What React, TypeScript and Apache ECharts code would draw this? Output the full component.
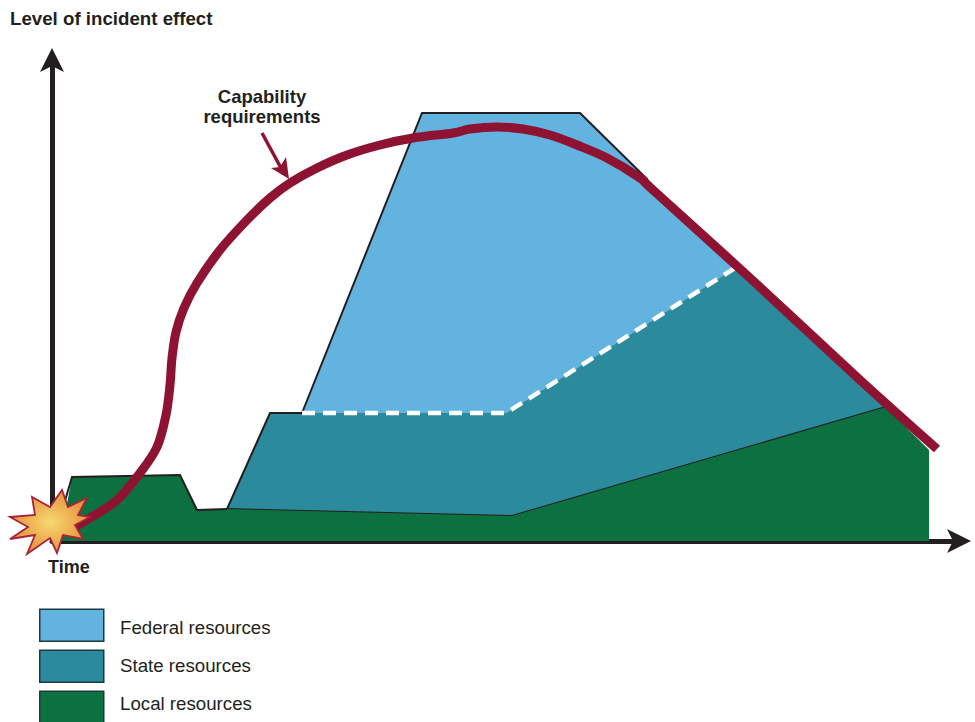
import React, { useEffect, useRef } from "react";
import * as echarts from "echarts";

const federalArea = [[250,128],[370,428],[528,428],[600,358],[683,273],[454,128]];
const federalEdge = [[250,128],[370,428],[528,428],[596,361]];
const stateArea = [[175,32],[218,128],[250,128],[454,128],[683,273],[834,134],[460,25]];
const stateEdgeLeft = [[175,32],[218,128],[250,128]];
const stateEdgeBottom = [[175,32],[460,25],[834,134]];
const localArea = [[8,0],[20,64],[128,66],[145,31],[175,32],[460,25],[834,134],[877,91],[877,0]];
const localEdge = [[10,30],[20,64],[128,66],[145,31],[175,32]];
const federalStateBoundary = [[250,128],[454,128],[683,273]];
const capability = [[24,15],[38,23],[65,41],[88,68],[105,94],[114,126],[118,156],[120,183],[124,209],[132,233],[145,258],[168,291],[195,321],[218,343],[238,358],[265,373],[295,386],[328,396],[361,403],[401,408],[418,412],[445,414],[471,412],[498,406],[525,396],[555,383],[588,363],[601,351],[698,263],[808,161],[885,92]];
const burst = [[10,51],[16,34],[35,43],[26,26],[38,24],[23,16],[31,2],[11,6],[5,-12],[-2,3],[-25,-13],[-17,6],[-42,2],[-24,14],[-42,24],[-17,26],[-20,44],[-2,34]];
const legendNames = ["Federal resources", "State resources", "Local resources"];

const FEDERAL = "#63b3e0";
const STATE = "#2b8b9d";
const LOCAL = "#0c7040";
const CURVE = "#8e1333";
const INK = "#231f20";
const FONT = "'Liberation Sans', Arial, sans-serif";
const ARROW = "path://M0,0 L12,24 L0,18 L-12,24 Z";

function areaSeries(name: string, color: string, area: number[][], edges: number[][][], z: number) {
  return {
    name,
    type: "custom",
    coordinateSystem: "cartesian2d",
    clip: false,
    z,
    silent: true,
    itemStyle: { color },
    data: [area[0]],
    encode: { x: 0, y: 1 },
    renderItem: (_: any, api: any) => ({
      type: "group",
      children: [
        { type: "polygon", shape: { points: area.map((p) => api.coord(p)) }, style: { fill: color } },
        ...edges.map((edge) => ({
          type: "polyline",
          shape: { points: edge.map((p) => api.coord(p)) },
          style: { fill: "none", stroke: INK, lineWidth: 2 },
        })),
      ],
    }),
  };
}

// Catmull-Rom spline through the given pixel points, as SVG path data.
function splinePath(pts: number[][]) {
  let d = `M${pts[0][0]} ${pts[0][1]}`;
  for (let i = 0; i < pts.length - 1; i++) {
    const p0 = pts[Math.max(i - 1, 0)];
    const p1 = pts[i];
    const p2 = pts[i + 1];
    const p3 = pts[Math.min(i + 2, pts.length - 1)];
    const c1x = p1[0] + (p2[0] - p0[0]) / 6;
    const c1y = p1[1] + (p2[1] - p0[1]) / 6;
    const c2x = p2[0] - (p3[0] - p1[0]) / 6;
    const c2y = p2[1] - (p3[1] - p1[1]) / 6;
    d += ` C${c1x} ${c1y} ${c2x} ${c2y} ${p2[0]} ${p2[1]}`;
  }
  return d;
}

export default function App() {
  const ref = useRef<HTMLDivElement>(null);
  useEffect(() => {
    const chart = echarts.init(ref.current!, undefined, { renderer: "svg" });
    const hiddenAxis = {
      type: "value" as const,
      min: 0,
      axisTick: { show: false },
      axisLabel: { show: false },
      splitLine: { show: false },
    };
    chart.setOption({
      animation: false,
      backgroundColor: "#ffffff",
      grid: { left: 52, top: 60, width: 907, height: 481 },
      xAxis: {
        ...hiddenAxis,
        max: 907,
        axisLine: { show: true, symbol: ["none", ARROW], symbolSize: [24, 24], lineStyle: { color: INK, width: 5 } },
      },
      yAxis: {
        ...hiddenAxis,
        max: 481,
        axisLine: { show: true, symbol: ["none", ARROW], symbolSize: [24, 24], lineStyle: { color: INK, width: 5 } },
      },
      legend: [
        {
          orient: "vertical",
          left: 39,
          top: 608.5,
          height: 200,
          padding: 0,
          itemWidth: 64,
          itemHeight: 32,
          itemGap: 7.5,
          selectedMode: false,
          icon: "rect",
          itemStyle: { borderColor: "#1d3a44", borderWidth: 1.5 },
          textStyle: { fontSize: 1 },
          formatter: () => "",
          data: legendNames,
        },
        {
          orient: "vertical",
          left: 39,
          top: 608,
          height: 200,
          padding: 0,
          itemWidth: 64,
          itemHeight: 38,
          itemGap: 0,
          selectedMode: false,
          icon: "rect",
          itemStyle: { opacity: 0, borderWidth: 0 },
          textStyle: { fontFamily: FONT, fontSize: 18.7, color: INK, padding: [0, 0, 0, 12] },
          data: legendNames,
        },
      ],
      graphic: [
        { type: "text", x: 10, y: 9, style: { text: "Level of incident effect", font: `bold 18.7px ${FONT}`, fill: INK } },
        { type: "text", x: 48, y: 558, style: { text: "Time", font: `bold 18px ${FONT}`, fill: INK } },
        { type: "text", x: 262, y: 87, style: { text: "Capability", align: "center", font: `bold 18.5px ${FONT}`, fill: INK } },
        { type: "text", x: 262, y: 107, style: { text: "requirements", align: "center", font: `bold 18.5px ${FONT}`, fill: INK } },
        { type: "line", shape: { x1: 262, y1: 133, x2: 281, y2: 168 }, style: { stroke: CURVE, lineWidth: 3.5 } },
        { type: "polygon", shape: { points: [[289, 179], [271, 168], [280, 167], [286, 157]] }, style: { fill: CURVE } },
      ],
      series: [
        areaSeries(legendNames[0], FEDERAL, federalArea, [federalEdge], 1),
        areaSeries(legendNames[1], STATE, stateArea, [stateEdgeLeft, stateEdgeBottom], 2),
        areaSeries(legendNames[2], LOCAL, localArea, [localEdge], 3),
        {
          type: "line",
          data: federalStateBoundary,
          symbol: "none",
          clip: false,
          z: 4,
          silent: true,
          lineStyle: { color: "#ffffff", width: 4.5, type: [13, 8] },
        },
        {
          type: "custom",
          name: "Capability requirements",
          coordinateSystem: "cartesian2d",
          clip: false,
          z: 6,
          silent: true,
          data: [capability[0]],
          renderItem: (_: any, api: any) => ({
            type: "path",
            shape: {
              pathData: splinePath(capability.map((p) => api.coord(p))),
              layout: "cover",
            },
            style: { fill: "none", stroke: CURVE, lineWidth: 9, lineCap: "butt", lineJoin: "round" },
          }),
        },
        {
          type: "custom",
          coordinateSystem: "cartesian2d",
          clip: false,
          z: 7,
          silent: true,
          data: [burst[0]],
          renderItem: (_: any, api: any) => ({
            type: "polygon",
            shape: { points: burst.map((p) => api.coord(p)) },
            style: {
              fill: new echarts.graphic.RadialGradient(0.5, 0.5, 0.5, [
                { offset: 0, color: "#f6d96f" },
                { offset: 1, color: "#e8903f" },
              ]),
              stroke: "#a8243a",
              lineWidth: 1.8,
            },
          }),
        },
      ],
    });
    return () => chart.dispose();
  }, []);
  return <div ref={ref} style={{ position: "absolute", left: 0, top: 0, width: 975, height: 722 }} />;
}
